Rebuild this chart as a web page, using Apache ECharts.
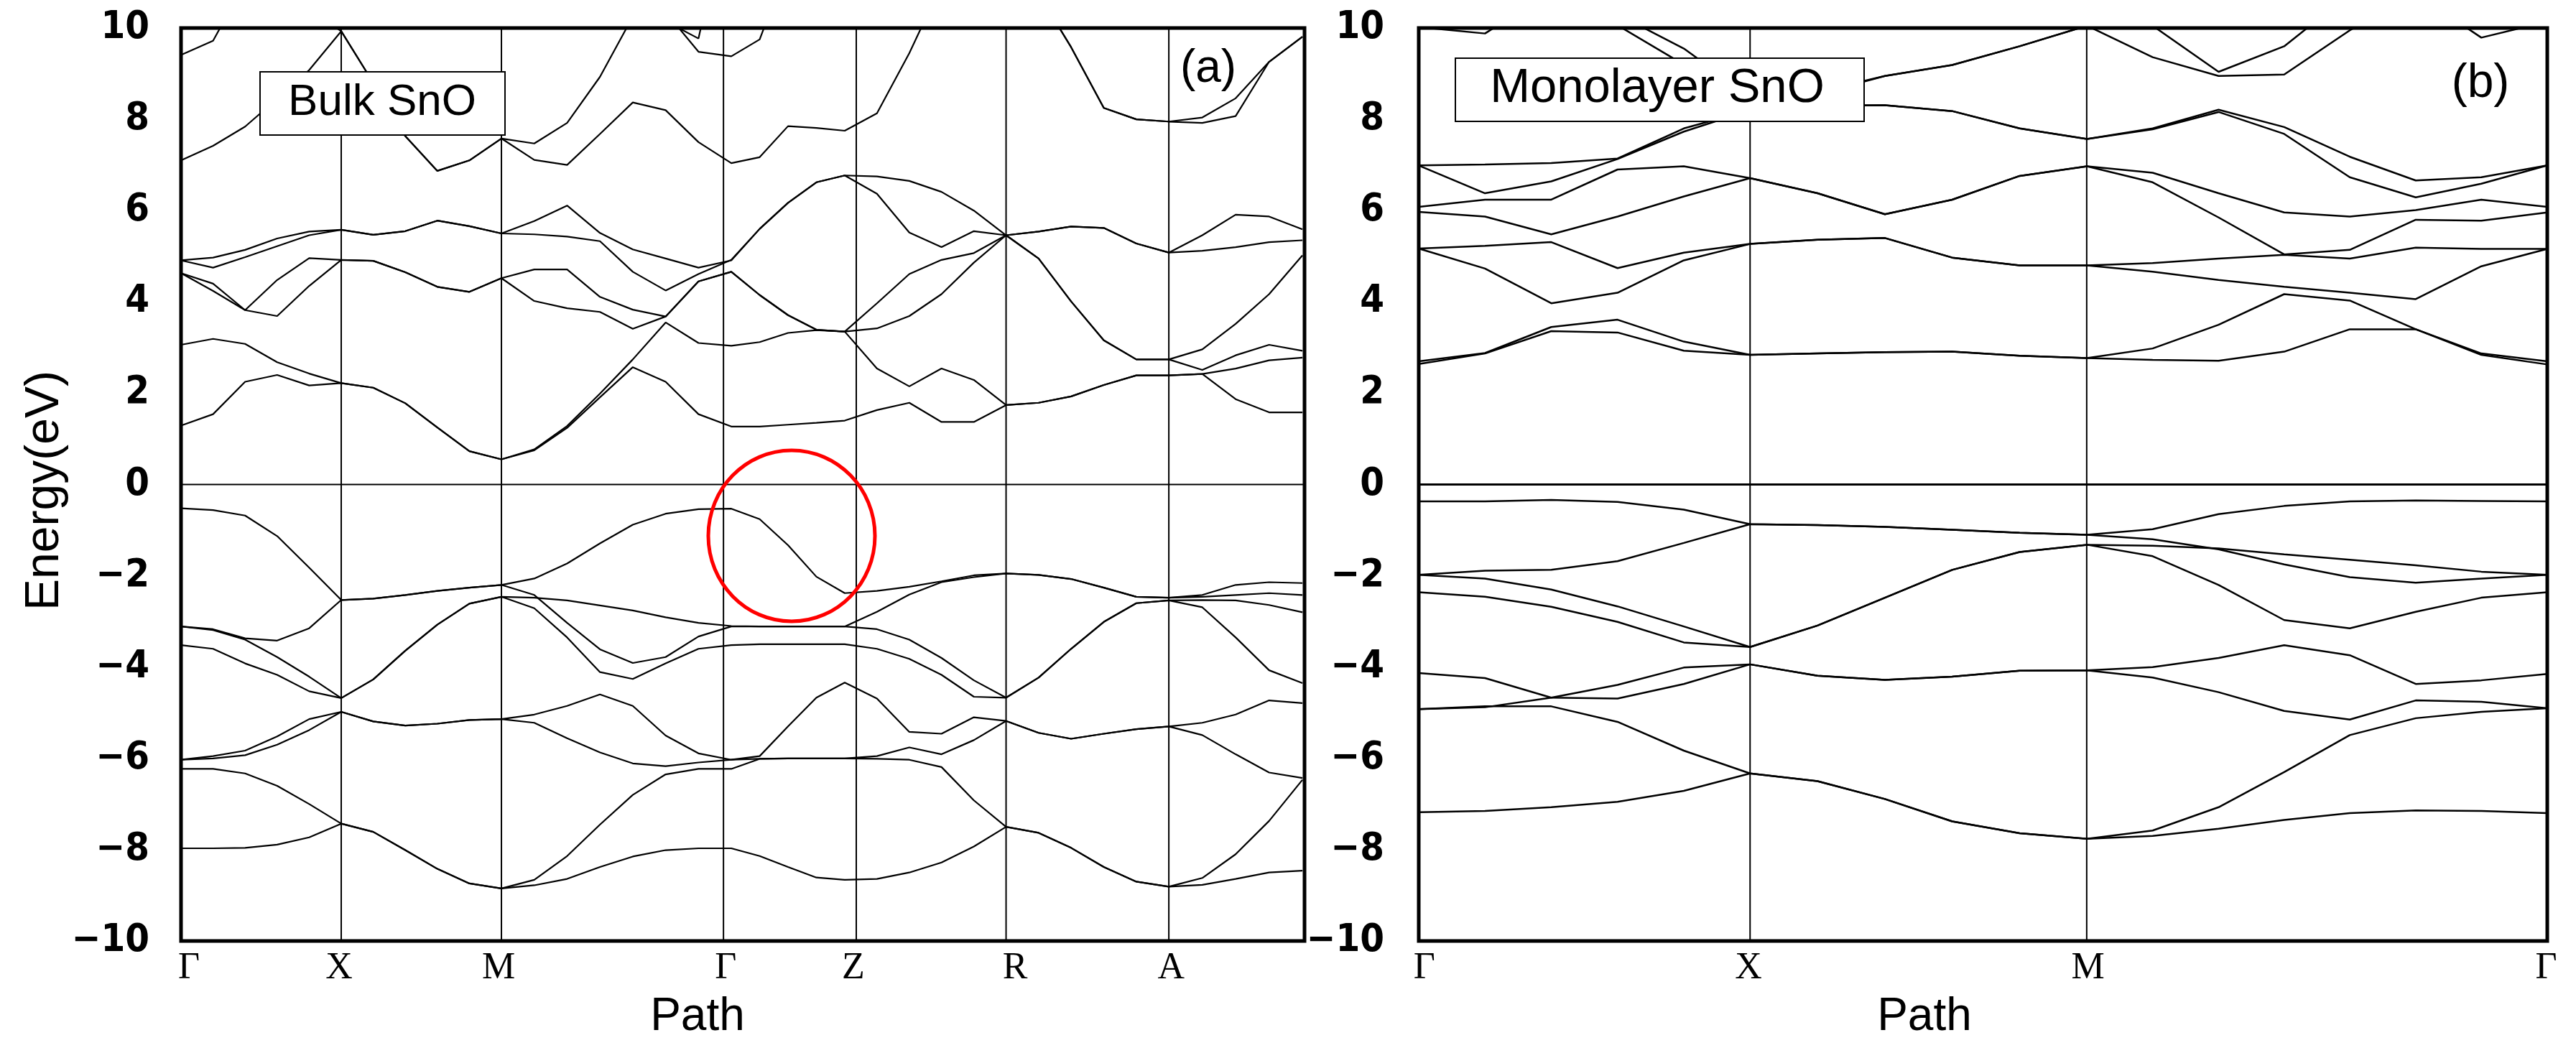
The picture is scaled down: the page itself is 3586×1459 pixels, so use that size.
<!DOCTYPE html>
<html>
<head>
<meta charset="utf-8">
<script src="https://cdn.jsdelivr.net/npm/echarts@6/dist/echarts.min.js"></script>
<style>html,body{margin:0;padding:0;background:#fff;}#c{width:3586px;height:1459px;}</style>
</head>
<body>
<div id="c"></div>
<script>
// ---------- k-path coordinates ----------
const kBulk = [0,0.2,0.4,0.6,0.8,1.0, 1.2,1.4,1.6,1.8,2.0, 2.205,2.41,2.615,2.82,3.025,3.23,3.435, 3.612,3.789,3.966,4.143, 4.344,4.546,4.747,4.949,5.15, 5.353,5.556,5.76,5.963,6.166, 6.375,6.583,6.792,7.0];
const kBulkMax = 7.013;
const kMono = [0,0.2,0.4,0.6,0.8,1.0, 1.2035,1.407,1.61,1.8135,2.017, 2.215,2.414,2.612,2.81,3.009,3.207,3.406];
const kMonoMax = 3.406;

// ---------- tick labels / high-symmetry lines ----------
const bulkTickNames = ['Γ','X','M','Γ','Z','R','A'];
const bulkTickPos = [0.05,0.987,1.982,3.40,4.197,5.206,6.18];
const bulkLinePos = [1.0,2.0,3.386,4.215,5.150,6.166];
const monoTickNames = ['Γ','X','M','Γ'];
const monoTickPos = [0.017,0.995,2.020,3.403];
const monoLinePos = [1.0,2.016];
const energyTicks = [-10,-8,-6,-4,-2,0,2,4,6,8,10];

// ---------- Bulk SnO bands (eV) ----------
const bulkV1 = [-7.97,-7.97,-7.96,-7.89,-7.73,-7.43, -7.61,-8.01,-8.42,-8.74,-8.85, -8.78,-8.64,-8.38,-8.15,-8.01,-7.97,-7.97, -8.14,-8.38,-8.61,-8.66, -8.64,-8.50,-8.28,-7.93,-7.50, -7.63,-7.96,-8.38,-8.70,-8.81, -8.77,-8.64,-8.50,-8.46];
const bulkV2 = [-6.23,-6.23,-6.33,-6.60,-7.00,-7.43, -7.61,-8.01,-8.42,-8.74,-8.85, -8.66,-8.14,-7.45,-6.80,-6.35,-6.23,-6.23, -6.01,-6.00,-6.00,-6.00, -6.01,-6.03,-6.19,-6.92,-7.50, -7.63,-7.96,-8.38,-8.70,-8.81, -8.62,-8.10,-7.37,-6.47];
const bulkV3 = [-6.03,-5.95,-5.83,-5.52,-5.14,-4.98, -5.19,-5.28,-5.24,-5.16,-5.14, -5.04,-4.85,-4.60,-4.85,-5.50,-5.89,-6.03, -5.95,-5.30,-4.67,-4.34, -4.69,-5.42,-5.46,-5.10,-5.18, -5.44,-5.57,-5.46,-5.36,-5.30, -5.22,-5.04,-4.73,-4.79];
const bulkV4 = [-6.03,-6.00,-5.93,-5.70,-5.38,-4.98, -5.19,-5.28,-5.24,-5.16,-5.14, -5.22,-5.56,-5.87,-6.11,-6.17,-6.09,-6.03, -6.01,-6.00,-6.00,-6.00, -5.95,-5.76,-5.91,-5.60,-5.18, -5.44,-5.57,-5.46,-5.36,-5.30, -5.49,-5.91,-6.31,-6.43];
const bulkV5 = [-3.52,-3.60,-3.92,-4.17,-4.53,-4.68, -4.27,-3.64,-3.07,-2.61,-2.46, -2.71,-3.35,-4.11,-4.26,-3.92,-3.60,-3.52, -3.50,-3.50,-3.50,-3.50, -3.60,-3.82,-4.17,-4.65,-4.67, -4.23,-3.60,-3.01,-2.60,-2.54, -2.69,-3.35,-4.07,-4.35];
const bulkV6 = [-3.11,-3.19,-3.40,-3.78,-4.21,-4.68, -4.27,-3.64,-3.07,-2.61,-2.46, -2.48,-2.54,-2.65,-2.76,-2.91,-3.03,-3.10, -3.11,-3.11,-3.11,-3.11, -3.17,-3.40,-3.80,-4.29,-4.67, -4.23,-3.60,-3.01,-2.60,-2.54, -2.53,-2.54,-2.64,-2.80];
const bulkV7 = [-3.11,-3.17,-3.37,-3.42,-3.15,-2.53, -2.50,-2.42,-2.33,-2.26,-2.20, -2.42,-3.03,-3.61,-3.91,-3.78,-3.33,-3.11, -3.11,-3.11,-3.11,-3.11, -2.79,-2.41,-2.14,-2.03,-1.95, -1.98,-2.07,-2.26,-2.46,-2.48, -2.46,-2.42,-2.38,-2.42];
const bulkV8 = [-0.52,-0.56,-0.68,-1.13,-1.82,-2.53, -2.50,-2.42,-2.33,-2.26,-2.20, -2.06,-1.73,-1.29,-0.88,-0.64,-0.54,-0.53, -0.76,-1.33,-2.02,-2.38, -2.33,-2.24,-2.12,-1.99,-1.95, -1.98,-2.07,-2.26,-2.46,-2.48, -2.42,-2.20,-2.14,-2.16];
const bulkC1 = [1.29,1.54,2.25,2.40,2.17,2.22, 2.12,1.78,1.25,0.73,0.55, 0.75,1.24,1.91,2.57,2.25,1.54,1.27, 1.27,1.31,1.35,1.40, 1.63,1.79,1.37,1.37,1.74, 1.79,1.93,2.18,2.39,2.39, 2.42,2.54,2.72,2.78];
const bulkC2 = [3.06,3.19,3.08,2.68,2.43,2.22, 2.12,1.78,1.25,0.73,0.55, 0.77,1.28,1.99,2.74,3.55,3.10,3.04, 3.12,3.32,3.38,3.35, 2.54,2.15,2.54,2.29,1.74, 1.79,1.93,2.18,2.39,2.39, 2.42,1.87,1.58,1.58];
const bulkC3 = [4.63,4.40,3.82,4.48,4.96,4.92, 4.90,4.65,4.33,4.22,4.52, 4.71,4.71,4.11,3.83,3.68,4.45,4.66, 4.15,3.71,3.39,3.35, 3.97,4.61,4.92,5.07,5.46, 4.95,4.01,3.16,2.74,2.74, 2.96,3.52,4.17,5.02];
const bulkC4 = [4.63,4.24,3.82,3.69,4.35,4.92, 4.90,4.65,4.33,4.22,4.52, 4.02,3.86,3.78,3.41,3.68,4.45,4.66, 4.15,3.71,3.39,3.35, 3.42,3.69,4.17,4.86,5.46, 4.95,4.01,3.16,2.74,2.74, 2.51,2.83,3.06,2.93];
const bulkC5 = [4.91,4.97,5.14,5.39,5.54,5.58, 5.47,5.55,5.78,5.66,5.50, 5.77,6.11,5.51,5.15,4.95,4.75,4.91, 5.60,6.17,6.62,6.77, 6.75,6.65,6.41,6.00,5.46, 5.54,5.65,5.62,5.28,5.08, 5.46,5.91,5.87,5.59];
const bulkC6 = [4.91,4.75,4.98,5.22,5.46,5.58, 5.47,5.55,5.78,5.66,5.50, 5.48,5.43,5.33,4.66,4.25,4.61,4.92, 5.60,6.17,6.62,6.77, 6.37,5.52,5.20,5.55,5.46, 5.54,5.65,5.62,5.28,5.08, 5.12,5.20,5.31,5.35];
const bulkC7 = [7.10,7.42,7.84,8.45,9.08,9.93, 8.80,7.63,6.87,7.10,7.58, 7.11,7.00,7.68,8.37,8.20,7.50,7.04, 7.17,7.85,7.81,7.75, 8.13,9.45,10.95,11.6,11.6, 10.75,9.58,8.25,8.00,7.95, 8.04,8.46,9.26,9.81];
const bulkC8 = [9.41,9.72,11.0,11.0,10.4,9.93, 8.80,7.63,6.87,7.10,7.58, 7.47,7.92,8.93,10.25,10.35,9.48,9.38, 9.75,11.4,12,12, 12,12,12,12,12, 10.75,9.58,8.25,8.00,7.95, 7.92,8.07,9.26,9.81];
const bulkC9 = [null,null,null,null,null,null, null,null,null,null,null, null,null,null,null,10.15,9.77,13.0, null,null,null,null, null,null,null,null,null, null,null,null,null,null, null,null,null,null];

// ---------- Monolayer SnO bands (eV) ----------
const monoV1 = [-0.37,-0.37,-0.34,-0.38,-0.55,-0.87, -0.89,-0.93,-0.99,-1.06,-1.10, -0.98,-0.65,-0.47,-0.37,-0.35,-0.36,-0.37];
const monoV2 = [-1.98,-1.89,-1.87,-1.68,-1.28,-0.87, -0.89,-0.93,-0.99,-1.06,-1.10, -1.20,-1.42,-1.75,-2.03,-2.15,-2.06,-1.98];
const monoV3 = [-1.98,-2.06,-2.30,-2.67,-3.11,-3.56, -3.09,-2.48,-1.87,-1.48,-1.32, -1.34,-1.40,-1.53,-1.65,-1.77,-1.91,-1.98];
const monoV4 = [-2.36,-2.46,-2.68,-3.01,-3.46,-3.56, -3.09,-2.48,-1.87,-1.48,-1.32, -1.57,-2.20,-2.97,-3.15,-2.79,-2.48,-2.36];
const monoV5 = [-4.13,-4.24,-4.67,-4.69,-4.37,-3.94, -4.19,-4.28,-4.21,-4.08,-4.07, -4.00,-3.80,-3.52,-3.74,-4.37,-4.29,-4.15];
const monoV6 = [-4.92,-4.88,-4.67,-4.39,-4.01,-3.94, -4.19,-4.28,-4.21,-4.08,-4.07, -4.23,-4.55,-4.96,-5.15,-4.73,-4.76,-4.90];
const monoV7 = [-4.92,-4.86,-4.86,-5.20,-5.83,-6.33, -6.50,-6.89,-7.38,-7.64,-7.76, -7.58,-7.07,-6.30,-5.49,-5.12,-4.98,-4.90];
const monoV8 = [-7.18,-7.15,-7.07,-6.95,-6.71,-6.33, -6.50,-6.89,-7.38,-7.64,-7.76, -7.70,-7.54,-7.35,-7.20,-7.14,-7.15,-7.20];
const monoC1 = [2.64,2.87,3.36,3.33,2.93,2.84, 2.87,2.90,2.91,2.82,2.77, 2.98,3.50,4.17,4.03,3.40,2.87,2.70];
const monoC2 = [2.70,2.88,3.45,3.61,3.13,2.84, 2.87,2.90,2.91,2.82,2.77, 2.73,2.71,2.91,3.40,3.40,2.84,2.63];
const monoC3 = [5.17,4.73,3.97,4.20,4.91,5.27, 5.36,5.40,4.97,4.80,4.80, 4.85,4.95,5.03,4.95,5.19,5.16,5.16];
const monoC4 = [5.17,5.23,5.31,4.74,5.08,5.27, 5.36,5.40,4.97,4.80,4.80, 4.66,4.48,4.33,4.20,4.06,4.78,5.16];
const monoC5 = [5.97,5.87,5.48,5.87,6.31,6.71, 6.38,5.92,6.24,6.76,6.97, 6.83,6.38,5.96,5.87,6.01,6.24,6.08];
const monoC6 = [6.08,6.24,6.24,6.90,6.97,6.71, 6.38,5.92,6.24,6.76,6.97, 6.62,5.85,5.04,5.14,5.80,5.78,5.96];
const monoC7 = [6.99,7.01,7.04,7.14,7.80,8.20, 8.55,8.95,9.19,9.60,10.05, 9.36,8.95,8.98,9.95,10.75,9.79,10.14];
const monoC8 = [6.99,6.38,6.64,7.13,7.73,8.20, 8.30,8.31,8.18,7.80,7.57, 7.80,8.21,7.83,7.18,6.66,6.73,6.99];
const monoC9 = [null,null,null,10.06,9.20,8.40, 8.30,8.31,8.18,7.80,7.57, 7.78,8.16,7.68,6.73,6.29,6.59,6.99];
const monoC10 = [null,null,null,10.30,9.55,8.50, 8.60,8.95,9.19,9.60,10.05, 10.05,9.04,9.60,10.74,null,null,null];
const monoC11 = [10.02,9.88,10.80,null,null,null, null,null,null,null,null, null,null,null,null,null,null,null];

const bulkBands = [bulkV1,bulkV2,bulkV3,bulkV4,bulkV5,bulkV6,bulkV7,bulkV8,bulkC1,bulkC2,bulkC3,bulkC4,bulkC5,bulkC6,bulkC7,bulkC8,bulkC9];
const monoBands = [monoV1,monoV2,monoV3,monoV4,monoV5,monoV6,monoV7,monoV8,monoC1,monoC2,monoC3,monoC4,monoC5,monoC6,monoC7,monoC8,monoC9,monoC10,monoC11];

const chart = echarts.init(document.getElementById('c'), null, {renderer:'canvas'});
const NARROW = '"Liberation Sans Narrow","DejaVu Sans Condensed","Arial Narrow",sans-serif';
const SANS = '"Liberation Sans",Arial,sans-serif';
const SERIF = '"Liberation Serif","Times New Roman",serif';

function bandSeries(arr, k, g, w) {
  return {type:'line', xAxisIndex:g, yAxisIndex:g, data: arr.map((v,i)=>[k[i], v]),
    symbol:'none', showSymbol:false, connectNulls:false, clip:true, silent:true, animation:false, z:3,
    lineStyle:{color:'#000', width:w}};
}
function refLine(pts, g, w) {
  return {type:'line', xAxisIndex:g, yAxisIndex:g, data: pts, symbol:'none', showSymbol:false,
    clip:true, silent:true, animation:false, z:2, lineStyle:{color:'#000', width:w}};
}
const series = [];
bulkLinePos.forEach(k => series.push(refLine([[k,-10],[k,10]], 0, 2.0)));
monoLinePos.forEach(k => series.push(refLine([[k,-10],[k,10]], 1, 2.0)));
series.push(refLine([[0,0],[kBulkMax,0]], 0, 2.0));
series.push(refLine([[0,0],[kMonoMax,0]], 1, 3.0));
bulkBands.forEach(b => series.push(bandSeries(b, kBulk, 0, 2.2)));
monoBands.forEach(b => series.push(bandSeries(b, kMono, 1, 2.5)));

function xAx(g, max, pos, names) {
  const map = {};
  pos.forEach((p,i) => map[p.toFixed(3)] = names[i]);
  return {type:'value', gridIndex:g, min:0, max:max,
    axisLine:{show:false}, axisTick:{show:false}, splitLine:{show:false},
    axisLabel:{customValues:pos, margin:12, fontSize:52, fontFamily:SERIF, color:'#000',
      formatter: v => map[Number(v).toFixed(3)] || ''}};
}
function yAx(g, margin) {
  return {type:'value', gridIndex:g, min:-10, max:10, interval:2,
    axisLine:{show:false}, axisTick:{show:false}, splitLine:{show:false},
    axisLabel:{margin:margin, fontSize:54, fontWeight:'bold', fontFamily:NARROW, color:'#000',
      formatter: v => (v < 0 ? '\u2212' + (-v) : '' + v)}};
}
function txt(x, y, text, size, family, rot) {
  return {type:'text', x:x, y:y, rotation: rot || 0, z:210,
    style:{text:text, fontSize:size, fontFamily:family, fill:'#000',
      align:'center', verticalAlign:'middle', textAlign:'center', textVerticalAlign:'middle'}};
}

chart.setOption({
  backgroundColor:'#fff',
  animation:false,
  grid:[
    {left:252, top:39, width:1564, height:1271, show:true, borderColor:'#000', borderWidth:5, backgroundColor:'transparent'},
    {left:1975, top:39, width:1571, height:1271, show:true, borderColor:'#000', borderWidth:5, backgroundColor:'transparent'}
  ],
  xAxis:[ xAx(0, kBulkMax, bulkTickPos, bulkTickNames), xAx(1, kMonoMax, monoTickPos, monoTickNames) ],
  yAxis:[ yAx(0, 44), yAx(1, 48) ],
  series: series,
  graphic:[
    {type:'rect', z:200, shape:{x:362, y:100, width:341, height:88}, style:{fill:'#fff', stroke:'#000', lineWidth:2}},
    txt(532, 143, 'Bulk SnO', 62, SANS),
    {type:'rect', z:200, shape:{x:2026, y:81, width:569, height:88}, style:{fill:'#fff', stroke:'#000', lineWidth:2}},
    txt(2307, 124, 'Monolayer SnO', 67, SANS),
    txt(1682, 96, '(a)', 64, SANS),
    txt(3453, 117, '(b)', 66, SANS),
    txt(63, 683, 'Energy(eV)', 66, SANS, Math.PI/2),
    txt(971, 1416, 'Path', 64, SANS),
    txt(2679, 1416, 'Path', 64, SANS),
    {type:'ellipse', z:220, shape:{cx:1102, cy:746, rx:116, ry:119}, style:{fill:'none', stroke:'#ff0000', lineWidth:5}}
  ]
});
</script>
</body>
</html>
